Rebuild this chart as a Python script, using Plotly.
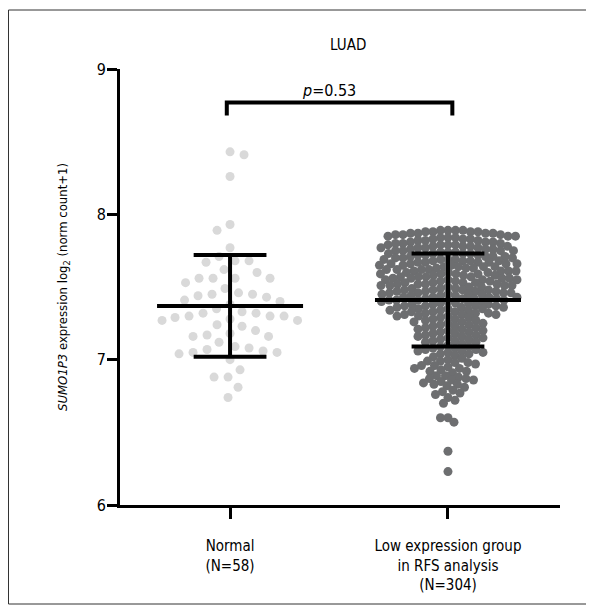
import numpy as np
import plotly.graph_objects as go

# ---------------- data ----------------
categories = ["Normal<br>(N=58)", "Low expression group<br>in RFS analysis<br>(N=304)"]

normal_values = [8.43, 8.41, 8.26, 7.93, 7.89, 7.77, 7.71, 7.68, 7.68, 7.67, 7.62, 7.60,
                 7.56, 7.56, 7.56, 7.56, 7.53, 7.49, 7.46, 7.45, 7.45, 7.44, 7.43, 7.41,
                 7.40, 7.38, 7.35, 7.33, 7.32, 7.32, 7.30, 7.30, 7.30, 7.29, 7.28, 7.27,
                 7.27, 7.24, 7.23, 7.20, 7.18, 7.17, 7.16, 7.16, 7.12, 7.09, 7.08, 7.07,
                 7.06, 7.05, 7.05, 7.04, 7.00, 6.93, 6.88, 6.88, 6.81, 6.74]

# low-expression group: frequency table (value level -> number of samples)
low_levels = [7.89, 7.88, 7.87, 7.86, 7.85, 7.84, 7.83, 7.82, 7.81, 7.80,
              7.79, 7.78, 7.77, 7.76, 7.75, 7.74, 7.73, 7.72, 7.71, 7.70,
              7.69, 7.68, 7.67, 7.66, 7.65, 7.64, 7.63, 7.62, 7.61, 7.60,
              7.59, 7.58, 7.57, 7.56, 7.55, 7.54, 7.53, 7.52, 7.51, 7.50,
              7.49, 7.48, 7.47, 7.46, 7.45, 7.44, 7.43, 7.42, 7.41, 7.40,
              7.39, 7.38, 7.37, 7.36, 7.35, 7.34, 7.33, 7.32, 7.31, 7.30,
              7.29, 7.28, 7.27, 7.26, 7.25, 7.24, 7.23, 7.22, 7.21, 7.20,
              7.19, 7.18, 7.17, 7.16, 7.15, 7.14, 7.13, 7.12, 7.11, 7.10,
              7.09, 7.08, 7.07, 7.06, 7.05, 7.04, 7.03, 7.02, 7.01, 7.00,
              6.99, 6.98, 6.97, 6.96, 6.95, 6.94, 6.93, 6.92, 6.91,
              6.89, 6.88, 6.87, 6.86, 6.85, 6.84, 6.83, 6.82, 6.81,
              6.79, 6.78, 6.77, 6.76, 6.74, 6.72, 6.70,
              6.60, 6.57, 6.37, 6.23]
low_counts = [4, 4, 4, 3, 3, 3, 3, 3, 3, 3,
              4, 4, 4, 3, 4, 3, 4, 3, 4, 3,
              4, 4, 4, 4, 3, 4, 3, 4, 4, 3,
              4, 3, 4, 4, 4, 3, 4, 4, 4, 3,
              3, 4, 4, 4, 4, 3, 4, 4, 4, 3,
              3, 3, 4, 3, 3, 3, 3, 3, 3, 3,
              2, 2, 2, 2, 2, 2, 2, 2, 2, 2,
              2, 2, 2, 2, 2, 2, 2, 2, 1, 1,
              2, 2, 2, 2, 2, 2, 1, 1, 1, 1,
              2, 2, 1, 2, 1, 2, 1, 2, 1,
              2, 1, 2, 2, 1, 1, 2, 1, 1,
              1, 1, 1, 1, 1, 1, 1,
              2, 1, 1, 1]

group_means = [7.37, 7.41]
group_sds = [0.35, 0.32]
p_text = "<i>p</i>=0.53"
bracket_y = 8.77
title_text = "LUAD"
y_title = "<i>SUMO1P3</i> expression log<sub>2</sub> (norm count+1)"

# ---------------- layout geometry ----------------
W, H = 594, 611
OFF = 8  # page body margin offset
ML, MT = 120 - OFF, 69 - OFF
plot_w, plot_h = 440, 436
MR = W - ML - plot_w
MB = H - MT - plot_h
X_RANGE = [-0.505, 1.514]
Y_RANGE = [6, 9]
XPX = plot_w / (X_RANGE[1] - X_RANGE[0])
YPX = plot_h / (Y_RANGE[1] - Y_RANGE[0])

FONT = "DejaVu Sans Condensed, Liberation Sans Narrow, Arial Narrow, sans-serif"


def swarm(vals, d, maxw, step=0.5):
    ys = np.asarray(vals, dtype=float) * YPX
    order = np.argsort(-ys, kind="stable")
    cand = np.arange(-maxw, maxw + step / 2, step)
    px_list, py_list = [], []
    xs = np.zeros(len(ys))
    for k, i in enumerate(order):
        y = ys[i]
        sgn = 1 if k % 2 == 0 else -1
        pri = np.argsort(np.abs(cand) + 1e-4 * sgn * cand, kind="stable")
        cs = cand[pri]
        if px_list:
            px = np.array(px_list)
            py = np.array(py_list)
            m = np.abs(py - y) < d
        else:
            m = np.array([], dtype=bool)
        if not m.any():
            x = 0.0
        else:
            dy = py[m] - y
            dx = cs[:, None] - px[m][None, :]
            dist = np.sqrt(dx ** 2 + dy[None, :] ** 2).min(axis=1)
            ok = dist >= d
            if ok.any():
                x = cs[np.argmax(ok)]
            else:
                x = cs[np.argmax(dist)]
        xs[i] = x
        px_list.append(x)
        py_list.append(y)
    return xs / XPX


low_values = np.repeat(low_levels, low_counts)

normal_x = 0 + swarm(normal_values, 14.0, 68)
low_x = 1 + swarm(low_values, 7.2, 69)

fig = go.Figure()

fig.add_trace(go.Scatter(x=normal_x, y=normal_values, mode="markers",
                         marker=dict(size=9, color="#d9d9d9", line=dict(width=0)),
                         hoverinfo="y"))
fig.add_trace(go.Scatter(x=low_x, y=low_values, mode="markers",
                         marker=dict(size=9, color="#6d6e70", line=dict(width=0)),
                         hoverinfo="y"))

# mean and SD bars
MEAN_HALF = 0.335
CAP_HALF = 0.167
for c, (m, s) in enumerate(zip(group_means, group_sds)):
    fig.add_trace(go.Scatter(
        x=[c - MEAN_HALF, c + MEAN_HALF, None, c, c, None,
           c - CAP_HALF, c + CAP_HALF, None, c - CAP_HALF, c + CAP_HALF],
        y=[m, m, None, m + s, m - s, None, m + s, m + s, None, m - s, m - s],
        mode="lines", line=dict(color="black", width=4), hoverinfo="skip"))

# significance bracket
fig.add_shape(type="path", xref="x", yref="y",
              path=f"M {-0.015},{bracket_y - 0.09} L {-0.015},{bracket_y} "
                   f"L {1.02},{bracket_y} L {1.02},{bracket_y - 0.09}",
              line=dict(color="black", width=4))


def paper_x(px):
    # px given in window coordinates
    return (px - OFF - ML) / plot_w


def paper_y(py):
    return (H - MB - (py - OFF)) / plot_h


fig.add_annotation(text=p_text, x=paper_x(329), y=paper_y(90), xref="paper", yref="paper",
                   xanchor="center", yanchor="middle",
                   showarrow=False, font=dict(family=FONT, size=16, color="black"))
fig.add_annotation(text=title_text, x=paper_x(348), y=paper_y(45), xref="paper", yref="paper",
                   xanchor="center", yanchor="middle",
                   showarrow=False, font=dict(family=FONT, size=15, color="black"))
fig.add_annotation(text=y_title, x=paper_x(63), y=paper_y(287), xref="paper", yref="paper",
                   xanchor="center", yanchor="middle",
                   textangle=-90, showarrow=False,
                   font=dict(family=FONT, size=13, color="black"))

# outer frame
fig.add_shape(type="rect", xref="paper", yref="paper",
              x0=paper_x(8.5), x1=paper_x(587), y0=paper_y(604), y1=paper_y(10),
              line=dict(color="#333333", width=1))

fig.update_layout(
    width=W, height=H,
    margin=dict(l=ML, r=MR, t=MT, b=MB),
    plot_bgcolor="white", paper_bgcolor="white",
    showlegend=False,
    font=dict(family=FONT, size=15, color="black"),
)
fig.update_xaxes(range=X_RANGE, tickvals=[0, 1], ticktext=categories,
                 ticks="outside", ticklen=11, tickwidth=3, tickcolor="black",
                 showline=True, linewidth=3, linecolor="black",
                 showgrid=False, zeroline=False, ticklabelstandoff=14,
                 tickfont=dict(family=FONT, size=15, color="black"))
fig.update_yaxes(range=Y_RANGE, tickvals=[6, 7, 8, 9],
                 ticks="outside", ticklen=10, tickwidth=3, tickcolor="black",
                 showline=True, linewidth=3, linecolor="black",
                 showgrid=False, zeroline=False, ticklabelstandoff=-2,
                 tickfont=dict(family=FONT, size=16, color="black"))

fig.write_html("out.html")
